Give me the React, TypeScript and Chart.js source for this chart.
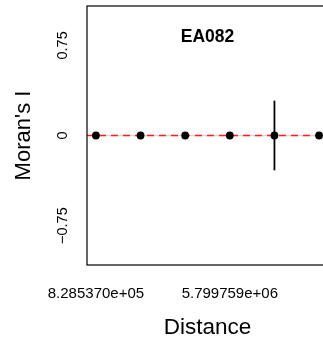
import React, { useEffect, useRef } from "react";
import { Chart, registerables } from "chart.js";

Chart.register(...registerables);

// ---- data ----
const distances = [828537, 2485611, 4142685, 5799759, 7456833, 9113907];
const moransI = [0, 0, 0, 0, 0, 0];
const errLower = [0, 0, 0, 0, -0.29, 0];
const errUpper = [0, 0, 0, 0, 0.29, 0];
const xTickValues = [828537, 5799759];
const xTickLabels = ["8.285370e+05", "5.799759e+06"];
const yTickValues = [-0.75, 0, 0.75];
const yTickLabels = ["\u22120.75", "0", "0.75"];
const xRange = [497122, 9445322];
const yRange = [-1.078, 1.078];
const referenceValue = 0;
const chartTitle = "EA082";
const xTitle = "Distance";
const yTitle = "Moran's I";

const FONT = '"Liberation Sans", Arial, Helvetica, sans-serif';

const rFrame = {
  id: "rFrame",
  afterDraw(chart: any) {
    const { ctx, chartArea: a, scales } = chart;
    const x = scales.x;
    const y = scales.y;
    ctx.save();
    ctx.strokeStyle = "#000";
    ctx.lineWidth = 1.2;
    ctx.strokeRect(a.left, a.top, a.right - a.left, a.bottom - a.top);
    ctx.fillStyle = "#000";

    // x tick labels
    ctx.font = `15px ${FONT}`;
    ctx.textAlign = "center";
    ctx.textBaseline = "alphabetic";
    xTickValues.forEach((v, i) => {
      ctx.fillText(xTickLabels[i], x.getPixelForValue(v), a.bottom + 33.3);
    });

    // x title
    ctx.font = `22.5px ${FONT}`;
    ctx.fillText(xTitle, (a.left + a.right) / 2, a.bottom + 69);

    // main title
    ctx.font = `bold 17.5px ${FONT}`;
    ctx.fillText(chartTitle, (a.left + a.right) / 2, a.top + 35.7);

    // y tick labels (rotated)
    ctx.font = `14.5px ${FONT}`;
    yTickValues.forEach((v, i) => {
      ctx.save();
      ctx.translate(a.left - 20.3, y.getPixelForValue(v));
      ctx.rotate(-Math.PI / 2);
      ctx.fillText(yTickLabels[i], 0, 0);
      ctx.restore();
    });

    // y title
    ctx.font = `22px ${FONT}`;
    ctx.save();
    ctx.translate(a.left - 57, (a.top + a.bottom) / 2);
    ctx.rotate(-Math.PI / 2);
    ctx.fillText(yTitle, 0, 0);
    ctx.restore();

    ctx.restore();
  },
};

export default function App() {
  const ref = useRef<HTMLCanvasElement | null>(null);

  useEffect(() => {
    if (!ref.current) return;
    const points = distances.map((d, i) => ({ x: d, y: moransI[i] }));
    const errorSets = distances
      .map((d, i) => ({ d, lo: errLower[i], hi: errUpper[i] }))
      .filter((e) => e.hi !== e.lo)
      .map((e) => ({
        data: [
          { x: e.d, y: e.lo },
          { x: e.d, y: e.hi },
        ],
        showLine: true,
        borderColor: "#000",
        borderWidth: 1.8,
        pointRadius: 0,
        order: 1,
      }));

    const chart = new Chart(ref.current, {
      type: "scatter",
      data: {
        datasets: [
          {
            data: points,
            pointRadius: 3.9,
            pointBackgroundColor: "#000",
            pointBorderWidth: 0,
            showLine: false,
            order: 0,
          },
          ...errorSets,
          {
            data: [
              { x: xRange[0], y: referenceValue },
              { x: xRange[1], y: referenceValue },
            ],
            showLine: true,
            borderColor: "#ff2020",
            borderWidth: 1.4,
            borderDash: [7, 5],
            pointRadius: 0,
            order: 2,
          },
          {
            data: points,
            showLine: true,
            borderColor: "#d6d6d6",
            borderWidth: 1.4,
            pointRadius: 0,
            order: 3,
          },
        ] as any,
      },
      options: {
        animation: false,
        responsive: false,
        events: [],
        layout: { padding: { left: 87, top: 6, right: 12, bottom: 80 } },
        plugins: {
          legend: { display: false },
          tooltip: { enabled: false },
          title: { display: false },
        },
        scales: {
          x: { type: "linear", display: false, min: xRange[0], max: xRange[1] },
          y: { type: "linear", display: false, min: yRange[0], max: yRange[1] },
        },
      },
      plugins: [rFrame],
    });
    return () => chart.destroy();
  }, []);

  return (
    <div
      style={{
        position: "fixed",
        left: 0,
        top: 0,
        width: 323,
        height: 345,
        overflow: "hidden",
        background: "#fff",
      }}
    >
      <canvas ref={ref} width={340} height={345} style={{ width: 340, height: 345, display: "block" }} />
    </div>
  );
}
